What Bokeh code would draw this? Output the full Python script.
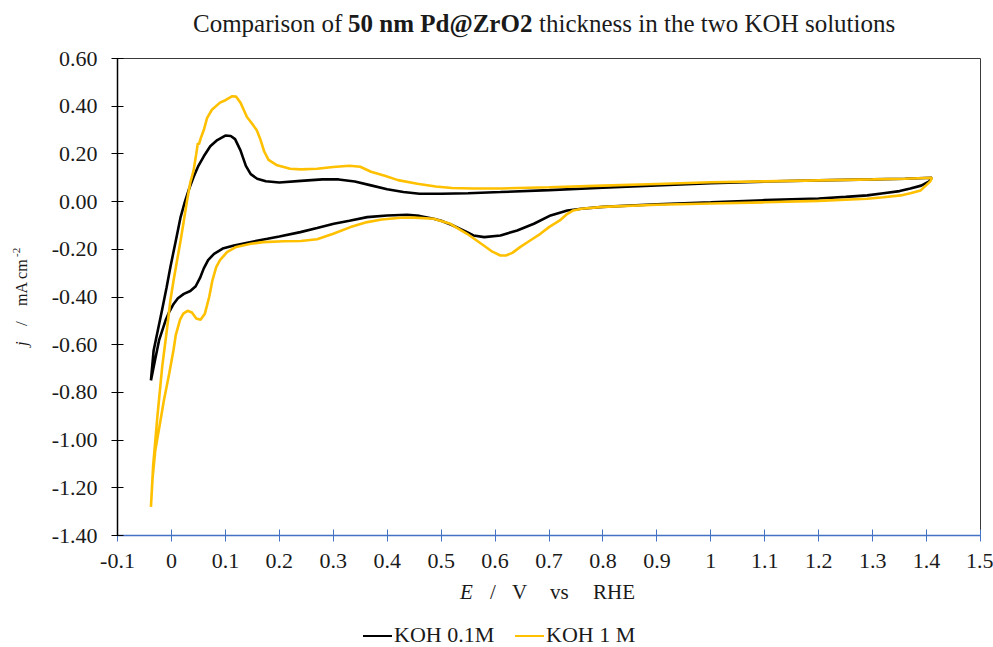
from bokeh.plotting import figure
from bokeh.models import Range1d, FixedTicker, CustomJSTickFormatter, Div
from bokeh.layouts import column, row
from bokeh.embed import file_html
from bokeh.resources import INLINE

# ---------------- data ----------------
# KOH 0.1M : anodic sweep then cathodic sweep (closed loop)
e_koh01 = [-0.038, -0.033, -0.025, -0.017, -0.009, -0.002, 0.008, 0.017, 0.025, 0.033,
           0.041, 0.050, 0.060, 0.072, 0.085, 0.100, 0.110, 0.118, 0.128, 0.138,
           0.147, 0.159, 0.175, 0.200, 0.240, 0.280, 0.310, 0.340, 0.370, 0.400,
           0.430, 0.460, 0.500, 0.550, 0.610, 0.700, 0.800, 0.900, 1.000, 1.100,
           1.200, 1.300, 1.360, 1.410,
           1.405, 1.390, 1.370, 1.350, 1.320, 1.290, 1.250, 1.200, 1.100, 1.000,
           0.900, 0.800, 0.760, 0.734, 0.703, 0.672, 0.641, 0.610, 0.580, 0.560,
           0.548, 0.520, 0.500, 0.486, 0.460, 0.437, 0.400, 0.363, 0.330, 0.301,
           0.270, 0.239, 0.200, 0.178, 0.150, 0.116, 0.095, 0.079, 0.068, 0.060,
           0.053, 0.045, 0.035, 0.023, 0.012, 0.004, -0.004, -0.011, -0.023, -0.030,
           -0.038]
j_koh01 = [-0.750, -0.624, -0.537, -0.450, -0.360, -0.275, -0.165, -0.065, 0.000, 0.055,
           0.103, 0.150, 0.190, 0.232, 0.258, 0.277, 0.275, 0.262, 0.215, 0.150,
           0.115, 0.096, 0.085, 0.080, 0.087, 0.093, 0.093, 0.084, 0.068, 0.052,
           0.040, 0.033, 0.033, 0.035, 0.040, 0.048, 0.058, 0.068, 0.077, 0.084,
           0.089, 0.093, 0.096, 0.100,
           0.085, 0.067, 0.055, 0.044, 0.035, 0.026, 0.020, 0.013, 0.006, -0.003,
           -0.011, -0.022, -0.030, -0.037, -0.058, -0.093, -0.121, -0.142, -0.149, -0.142,
           -0.128, -0.098, -0.080, -0.072, -0.060, -0.055, -0.058, -0.065, -0.080, -0.093,
           -0.111, -0.128, -0.146, -0.156, -0.168, -0.184, -0.197, -0.219, -0.245, -0.280,
           -0.320, -0.355, -0.375, -0.387, -0.405, -0.429, -0.462, -0.499, -0.582, -0.660,
           -0.750]

# KOH 1 M : anodic sweep then cathodic sweep (closed loop)
e_koh1 = [-0.038, -0.034, -0.026, -0.017, -0.008, -0.002, 0.004, 0.011, 0.017, 0.023,
          0.029, 0.035, 0.041, 0.046, 0.049, 0.051, 0.055, 0.060, 0.066, 0.075, 0.090,
          0.100, 0.113, 0.120, 0.128, 0.135, 0.140, 0.150, 0.158, 0.165, 0.172,
          0.180, 0.196, 0.220, 0.240, 0.270, 0.300, 0.330, 0.350, 0.370, 0.394,
          0.420, 0.456, 0.490, 0.520, 0.560, 0.610, 0.700, 0.800, 0.900, 1.000,
          1.100, 1.200, 1.300, 1.360, 1.410,
          1.407, 1.400, 1.389, 1.370, 1.352, 1.320, 1.290, 1.200, 1.100, 1.000,
          0.900, 0.800, 0.760, 0.745, 0.732, 0.720, 0.700, 0.684, 0.665, 0.647,
          0.632, 0.620, 0.610, 0.595, 0.579, 0.548, 0.517, 0.486, 0.450, 0.425,
          0.390, 0.363, 0.332, 0.300, 0.270, 0.240, 0.208, 0.170, 0.147, 0.120,
          0.103, 0.090, 0.083, 0.076, 0.070, 0.062, 0.054, 0.046, 0.038, 0.030,
          0.022, 0.016, 0.008, 0.004, -0.004, -0.014, -0.022, -0.030, -0.035, -0.038]
j_koh1 = [-1.280, -1.110, -0.900, -0.690, -0.530, -0.415, -0.330, -0.240, -0.163, -0.080,
          0.005, 0.080, 0.130, 0.200, 0.245, 0.240, 0.270, 0.300, 0.350, 0.385, 0.415,
          0.425, 0.442, 0.440, 0.415, 0.380, 0.355, 0.325, 0.300, 0.260, 0.210,
          0.175, 0.152, 0.138, 0.135, 0.138, 0.145, 0.150, 0.146, 0.125, 0.109,
          0.090, 0.075, 0.063, 0.057, 0.055, 0.055, 0.060, 0.067, 0.074, 0.081,
          0.085, 0.089, 0.093, 0.096, 0.100,
          0.085, 0.070, 0.047, 0.035, 0.026, 0.018, 0.012, 0.003, -0.003, -0.008,
          -0.013, -0.022, -0.030, -0.037, -0.055, -0.079, -0.107, -0.135, -0.163, -0.190,
          -0.215, -0.226, -0.226, -0.210, -0.184, -0.135, -0.093, -0.072, -0.067, -0.068,
          -0.075, -0.086, -0.107, -0.135, -0.158, -0.165, -0.166, -0.170, -0.177, -0.190,
          -0.212, -0.245, -0.275, -0.330, -0.400, -0.470, -0.495, -0.490, -0.465, -0.458,
          -0.470, -0.495, -0.560, -0.620, -0.720, -0.834, -0.940, -1.044, -1.160, -1.280]

series_names = ["KOH 0.1M", "KOH 1 M"]
series_colors = ["#000000", "#FFC000"]
x_ticks = [-0.1, 0.0, 0.1, 0.2, 0.3, 0.4, 0.5, 0.6, 0.7, 0.8, 0.9, 1.0, 1.1, 1.2, 1.3, 1.4, 1.5]
y_ticks = [-1.4, -1.2, -1.0, -0.8, -0.6, -0.4, -0.2, 0.0, 0.2, 0.4, 0.6]

FONT = "Liberation Serif"
TXT = "#1a1a1a"

# ---------------- main figure ----------------
p = figure(width=948, height=530, output_backend="svg", toolbar_location=None,
           x_range=Range1d(-0.1, 1.5), y_range=Range1d(-1.4, 0.6),
           min_border_left=72, min_border_right=13, min_border_top=13, min_border_bottom=40,
           margin=0)
p.xgrid.visible = False
p.ygrid.visible = False
p.outline_line_color = "#3a3a3a"
p.outline_line_width = 1

p.xaxis.ticker = FixedTicker(ticks=x_ticks)
p.yaxis.ticker = FixedTicker(ticks=y_ticks)
p.xaxis.formatter = CustomJSTickFormatter(code="return (Math.round(tick*10)/10).toString();")
p.yaxis.formatter = CustomJSTickFormatter(code="return tick.toFixed(2);")
for ax in (p.xaxis[0], p.yaxis[0]):
    ax.minor_tick_line_color = None
    ax.major_label_text_font = FONT
    ax.major_label_text_font_size = "22px"
    ax.major_label_text_color = TXT
    ax.major_tick_in = 6
    ax.major_tick_out = 6
p.xaxis.axis_line_color = "#4472C4"
p.xaxis.major_tick_line_color = "#4472C4"
p.xaxis.axis_line_width = 1.5
p.xaxis.major_label_standoff = 12
p.yaxis.axis_line_color = "#000000"
p.yaxis.major_tick_line_color = "#000000"
p.yaxis.axis_line_width = 1.5
p.yaxis.major_label_standoff = 14

p.line(e_koh01, j_koh01, line_color=series_colors[0], line_width=2.6)
p.line(e_koh1, j_koh1, line_color=series_colors[1], line_width=2.6)

# ---------------- texts around the plot (HTML, real text) ----------------
def span(left, top, html, size, extra=""):
    return (f"<span style='position:absolute; left:{left}px; top:{top}px; white-space:nowrap; "
            f"font-family:\"{FONT}\"; font-size:{size}px; color:{TXT}; {extra}'>{html}</span>")

title_html = ("<div style='position:relative; width:993px; height:45px;'>"
              + span(193, 6, "Comparison of", 25)
              + span(348, 6, "<b>50 nm Pd@ZrO2</b>", 25)
              + span(539, 6, "thickness in the two KOH solutions", 25)
              + "</div>")
title_div = Div(text=title_html, width=993, height=45, margin=0)

# rotated y-axis label; pieces placed along the (rotated) text direction
ylab_html = ("<div style='position:relative; width:45px; height:530px;'>"
             "<div style='position:absolute; left:12px; top:301px; width:0; height:0; "
             "transform:rotate(-90deg); transform-origin:left top;'>"
             + span(0, 0, "<i>j</i>", 17, "line-height:20px;")
             + span(20, 0, "/", 17, "line-height:20px;")
             + span(40, 0, "mA cm", 16, "line-height:20px;")
             + span(89, -3, "-2", 11, "line-height:14px;")
             + "</div></div>")
ylab_div = Div(text=ylab_html, width=45, height=530, margin=0)

def legend_line(left, top, color):
    return (f"<span style='position:absolute; left:{left}px; top:{top}px; width:29px; height:0; "
            f"border-top:2.6px solid {color};'></span>")

bottom_html = ("<div style='position:relative; width:993px; height:72px;'>"
               + span(460, 2, "<i>E</i>", 21)
               + span(490, 2, "/", 21)
               + span(512, 2, "V", 21)
               + span(550, 2, "vs", 21)
               + span(593, 2, "RHE", 21)
               + legend_line(363, 60, series_colors[0])
               + span(394, 50, series_names[0], 22, "line-height:20px;")
               + legend_line(515, 60, series_colors[1])
               + span(546, 50, series_names[1], 22, "line-height:20px;")
               + "</div>")
bottom_div = Div(text=bottom_html, width=993, height=72, margin=0)

layout = column(title_div, row(ylab_div, p, spacing=0, margin=0), bottom_div,
                spacing=0, margin=0)

open("out.html", "w").write(file_html(layout, INLINE))
